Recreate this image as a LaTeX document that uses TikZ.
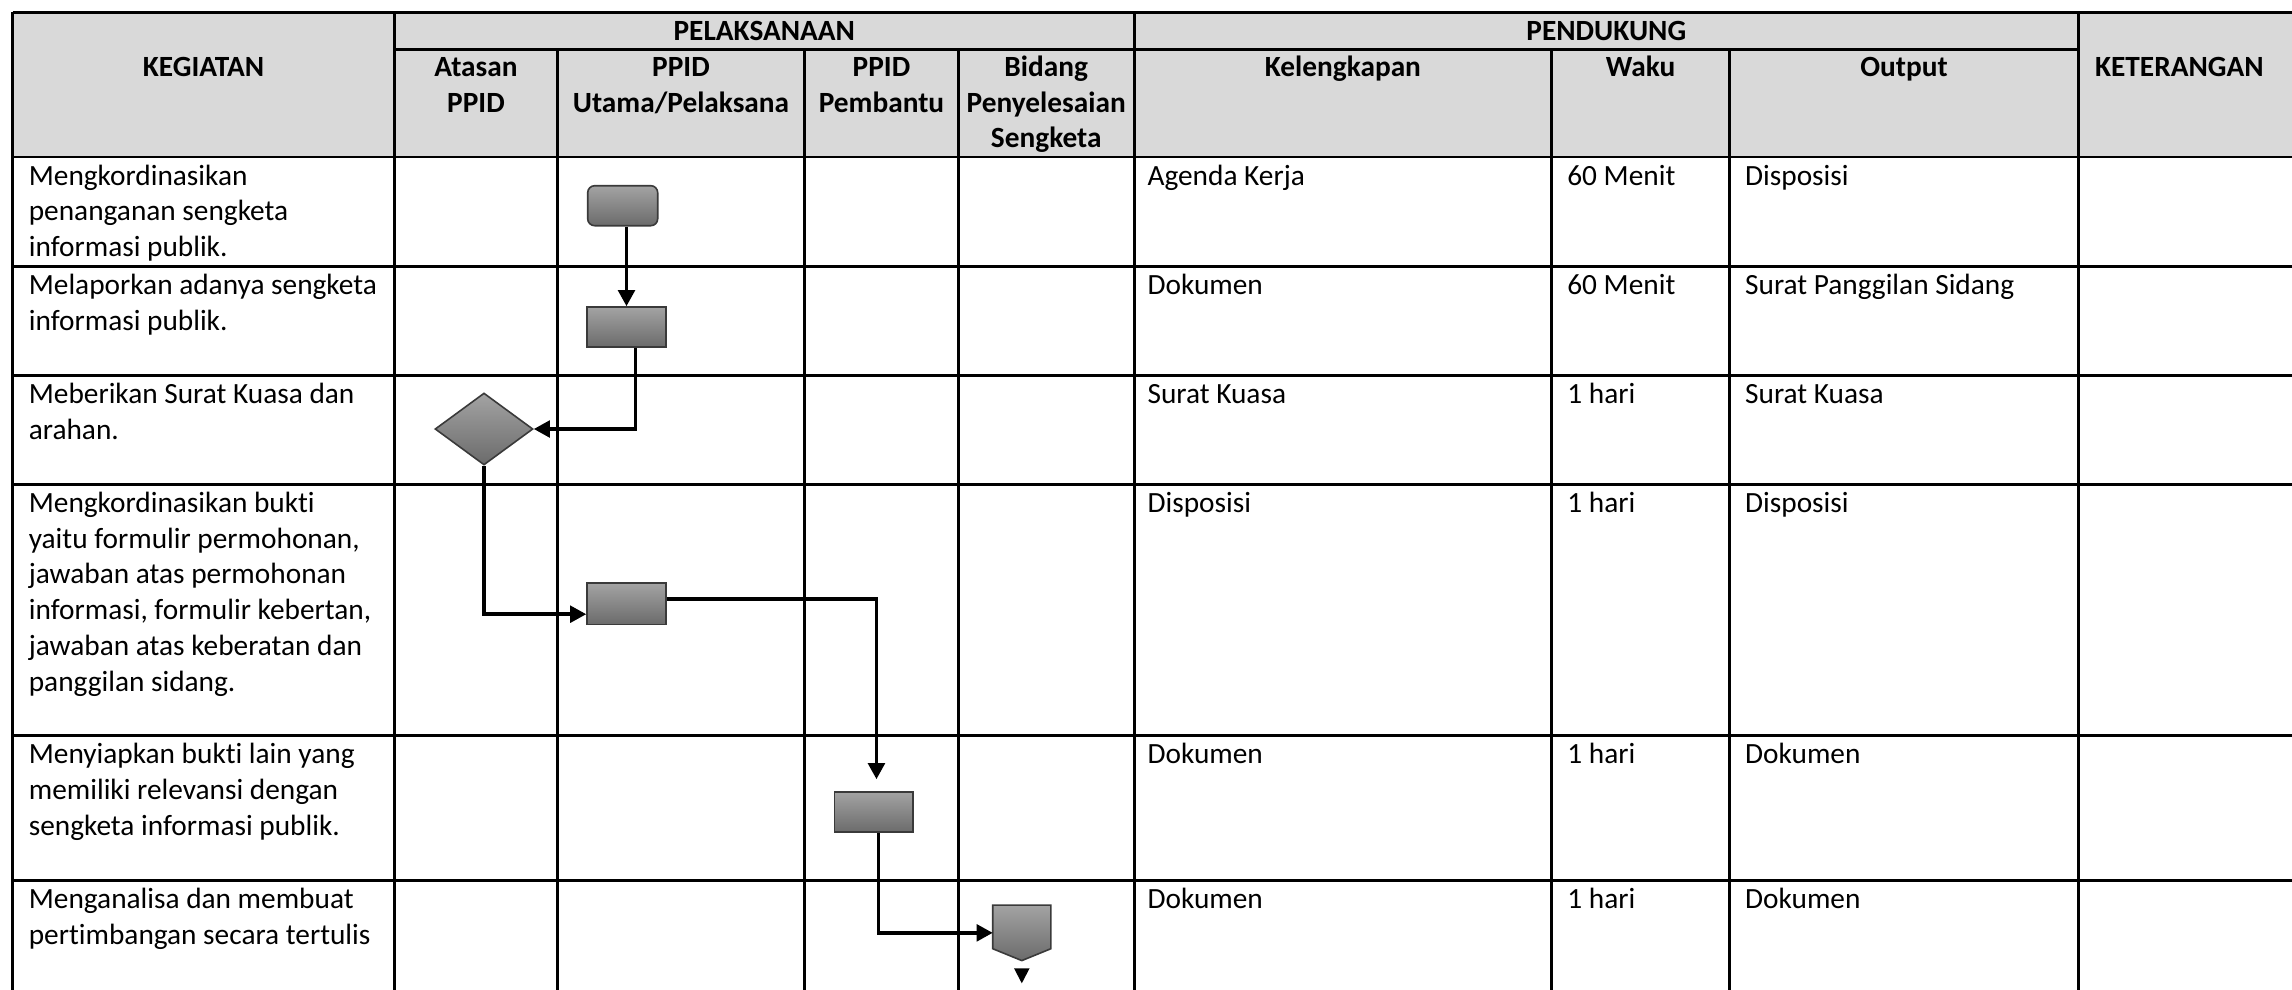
\documentclass[tikz,border=0pt]{standalone}
\usepackage{fontspec}
\setmainfont{Carlito}[Ligatures=NoCommon]
\usetikzlibrary{shapes.geometric,arrows.meta,calc}
\definecolor{hdr}{HTML}{D9D9D9}
\definecolor{shapeTop}{HTML}{A3A3A3}
\definecolor{shapeBot}{HTML}{6B6B6B}
\definecolor{shapeLine}{HTML}{3A3A3A}
\newcommand\mylinesl[1]{\begin{tabular}[t]{@{}l@{}}#1\end{tabular}}
\newcommand\mylinesc[1]{\begin{tabular}[t]{@{}c@{}}#1\end{tabular}}
\begin{document}
\begin{tikzpicture}[x=0.375pt,y=-0.375pt,
  tab/.style={line width=1pt},
  conn/.style={line width=1.3pt,-{Triangle[length=6pt,width=6.2pt]}},
  flow/.style={draw=shapeLine,line width=0.6pt,top color=shapeTop,bottom color=shapeBot,inner sep=0pt},
  body/.style={font=\fontsize{11}{13.4}\selectfont,anchor=base west,inner sep=0pt},
  head/.style={font=\fontsize{11}{13.4}\selectfont\bfseries,anchor=base,inner sep=0pt}]
\useasboundingbox (0,0) rectangle (2292,989);
\clip (0,0) rectangle (2292,989);
% header background
\fill[hdr] (12.5,12.3) rectangle (2300,157);
% horizontal rules
\draw[tab] (12.5,12.3) -- (2300,12.3);
\draw[tab] (394.6,49.3) -- (2078.4,49.3);
\draw[tab] (12.5,157) -- (2300,157);
\foreach \y in {266.7,375.7,484.5,735.8,880.7} \draw[tab] (12.5,\y) -- (2300,\y);
% vertical rules
\foreach \x in {12.5,394.6,1134.3,2078.4} \draw[tab] (\x,12.3) -- (\x,1000);
\foreach \x in {557.4,804.5,958.5,1551.6,1729.5} \draw[tab] (\x,49.3) -- (\x,1000);
% header texts
\node[head] (hKeg) at (203.5,76) {KEGIATAN};
\node[head] (hPel) at (764.3,40) {PELAKSANAAN};
\node[head] (hPen) at (1606.3,40) {PENDUKUNG};
\node[head] (hAta) at (476,76.5) {\mylinesc{Atasan\\PPID}};
\node[head] (hUta) at (681,76.5) {\mylinesc{PPID\\Utama/Pelaksana}};
\node[head] (hPem) at (881.5,76.5) {\mylinesc{PPID\\Pembantu}};
\node[head] (hBid) at (1046.2,76.5) {\mylinesc{Bidang\\Penyelesaian\\Sengketa}};
\node[head] (hKel) at (1342.9,76.5) {Kelengkapan};
\node[head] (hWak) at (1640.5,76.5) {Waku};
\node[head] (hOut) at (1904,76.5) {Output};
\node[head,anchor=base west] (hKet) at (2094.5,76.5) {KETERANGAN};
% activity texts
\node[body] (k1) at (28.3,185) {\mylinesl{Mengkordinasikan\\penanganan sengketa\\informasi publik.}};
\node[body] (k2) at (28.3,294.7) {\mylinesl{Melaporkan adanya sengketa\\informasi publik.}};
\node[body] (k3) at (28.3,403.7) {\mylinesl{Meberikan Surat Kuasa dan\\arahan.}};
\node[body] (k4) at (28.3,512.5) {\mylinesl{Mengkordinasikan bukti\\yaitu formulir permohonan,\\jawaban atas permohonan\\informasi, formulir kebertan,\\jawaban atas keberatan dan\\panggilan sidang.}};
\node[body] (k5) at (28.3,763.8) {\mylinesl{Menyiapkan bukti lain yang\\memiliki relevansi dengan\\sengketa informasi publik.}};
\node[body] (k6) at (28.3,908.7) {\mylinesl{Menganalisa dan membuat\\pertimbangan secara tertulis}};
% supporting texts
\node[body] (a1) at (1147,185) {Agenda Kerja};
\node[body] (b1) at (1566.8,185) {60 Menit};
\node[body] (c1) at (1744.6,185) {Disposisi};
\node[body] (a2) at (1147,294.7) {Dokumen};
\node[body] (b2) at (1566.8,294.7) {60 Menit};
\node[body] (c2) at (1744.6,294.7) {Surat Panggilan Sidang};
\node[body] (a3) at (1147,403.7) {Surat Kuasa};
\node[body] (b3) at (1566.8,403.7) {1 hari};
\node[body] (c3) at (1744.6,403.7) {Surat Kuasa};
\node[body] (a4) at (1147,512.5) {Disposisi};
\node[body] (b4) at (1566.8,512.5) {1 hari};
\node[body] (c4) at (1744.6,512.5) {Disposisi};
\node[body] (a5) at (1147,763.8) {Dokumen};
\node[body] (b5) at (1566.8,763.8) {1 hari};
\node[body] (c5) at (1744.6,763.8) {Dokumen};
\node[body] (a6) at (1147,908.7) {Dokumen};
\node[body] (b6) at (1566.8,908.7) {1 hari};
\node[body] (c6) at (1744.6,908.7) {Dokumen};
% flow shapes
\node[flow,rounded corners=2.6pt,minimum width=26.25pt,minimum height=15pt] (n1) at (622.7,205.7) {};
\node[flow,minimum width=29.6pt,minimum height=15pt] (n2) at (626.5,327) {};
\node[flow,diamond,minimum width=36.75pt,minimum height=27pt] (n3) at (484,429) {};
\node[flow,minimum width=29.6pt,minimum height=15.4pt] (n4) at (626.5,603.8) {};
\node[flow,minimum width=29.4pt,minimum height=15.2pt] (n5) at (873.8,812) {};
\node[minimum width=21.4pt,minimum height=20.4pt,inner sep=0pt] (n6) at (1021.8,932.85) {};
\shade[flow] (n6.north west) -- (n6.north east) -- ($(n6.north east)+(0,43.6)$) -- (n6.south) -- ($(n6.north west)+(0,43.6)$) -- cycle;
\fill ($(n6.south)+(-7.8,7.7)$) -- ($(n6.south)+(7.8,7.7)$) -- ($(n6.south)+(0,22.7)$) -- cycle;
% connectors
\draw[conn] (n2.north |- n1.south) -- (n2.north);
\draw[conn] ([xshift=3.4pt]n2.south) |- (n3.east);
\draw[conn] (n3.south) |- ([yshift=-3.9pt]n4.west);
\draw[conn,shorten >=4.4pt] ([yshift=1.8pt]n4.east) -| ([xshift=1pt]n5.north);
\draw[conn] ([xshift=1.8pt]n5.south) |- (n6.west);
\end{tikzpicture}
\end{document}
